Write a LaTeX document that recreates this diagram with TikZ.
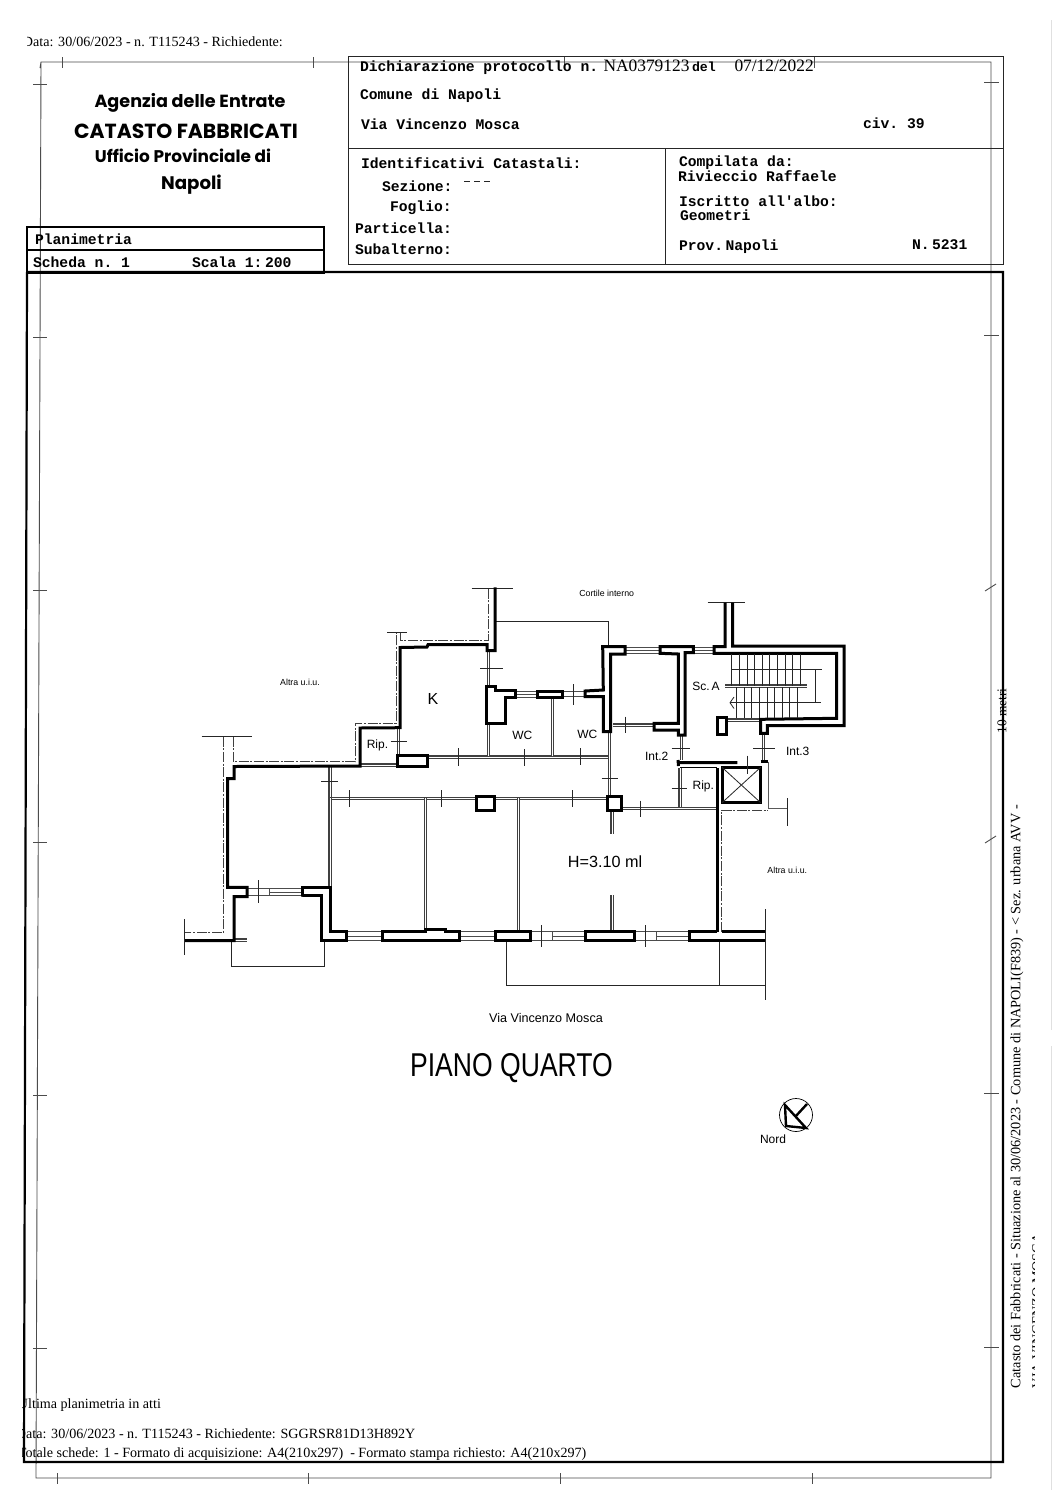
\documentclass[tikz,border=0pt]{standalone}
\usepackage{fontspec}
\setmainfont{Liberation Serif}
\setsansfont{Liberation Sans}
\setmonofont{Liberation Mono}
\newfontfamily\headfont{Poppins}
\usetikzlibrary{positioning}
\tikzset{
  every node/.style={inner sep=0pt,outer sep=0pt},
  frameline/.style={line width=0.45pt,black!70},
  boxline/.style={line width=0.5pt,black!85},
  heavyframe/.style={line width=1.1pt,black},
  wall/.style={line width=1.5pt,black,line join=miter},
  partition/.style={line width=0.55pt,black!75,double=white,double distance=0.5pt},
  windowbox/.style={line width=0.4pt,black!70},
  fine/.style={line width=0.4pt,black!85},
  border/.style={line width=0.5pt,black!75,dash pattern=on 5pt off 0.8pt on 1pt off 0.8pt},
  typed/.style={font=\ttfamily\bfseries\fontsize{7.35}{8}\selectfont,anchor=west,text height=6pt,text depth=0.6pt},
  stamp/.style={font=\rmfamily\fontsize{7.05}{8}\selectfont,anchor=west},
  bigstamp/.style={font=\rmfamily\fontsize{8.7}{10}\selectfont,anchor=west},
  head/.style={font=\headfont\bfseries\fontsize{8.8}{10}\selectfont},
  room/.style={font=\sffamily\fontsize{6}{7}\selectfont},
  tiny label/.style={font=\sffamily\fontsize{4.4}{5}\selectfont},
}
\begin{document}
\begin{tikzpicture}[x=0.5pt,y=-0.5pt]
  \useasboundingbox[fill=white] (0,0) rectangle (1060,1500);

  % thin frame and its ticks
  \draw[frameline] (40,68) -- (41,62) -- (991,62) -- (991,1478) -- (36,1478) -- (41,62);
  \foreach \tx in {62,313,564,814} \draw[frameline] (\tx,57) -- (\tx,68);
  \foreach \ty in {84,337,590,842,1095,1348} \draw[frameline] (33,\ty) -- (47,\ty);
  \foreach \ty in {82,335,1093,1347} \draw[frameline] (984,\ty) -- (999,\ty);
  \foreach \ty in {588,840} \draw[frameline] (985,\ty+3) -- (996,\ty-4);
  \foreach \tx in {57,308,560,812} \draw[frameline] (\tx,1473) -- (\tx,1484);

  % boxes of the heading
  \draw[boxline] (348,56) rectangle (1003,264);
  \draw[boxline] (348,148) -- (1003,148);
  \draw[boxline] (665,148) -- (665,264);
  \draw[heavyframe] (27,227) rectangle (324,273);
  \draw[heavyframe] (27,250) -- (324,250);
  \draw[heavyframe] (27,272) -- (1003,272) -- (1003,1462) -- (24,1462) -- (27,272);

  % heading on the left
  \node[head] (agenzia) at (190,102.5) {Agenzia delle Entrate};
  \node[head,font=\headfont\bfseries\fontsize{10.2}{12}\selectfont] (catasto) at (186,131) {CATASTO FABBRICATI};
  \node[head,font=\headfont\bfseries\fontsize{8.45}{10}\selectfont] (ufficio) at (183,156) {Ufficio Provinciale di};
  \node[head,font=\headfont\bfseries\fontsize{9.1}{10}\selectfont] (napoli) at (191.5,185) {Napoli};

  % typed fields
  \node[typed] (dichiarazione) at (360,66) {Dichiarazione protocollo n.};
  \node[bigstamp] (protocollo) at (603.5,66) {NA0379123};
  \node[typed,font=\ttfamily\bfseries\fontsize{6.6}{7}\selectfont] (del) at (692,66) {del};
  \node[bigstamp] (datadich) at (734.5,66) {07/12/2022};
  \node[typed] (comune) at (360,94) {Comune di Napoli};
  \node[typed] (via) at (361,124) {Via Vincenzo Mosca};
  \node[typed] (civico) at (863,123) {civ. 39};
  \node[typed] (identificativi) at (361,163) {Identificativi Catastali:};
  \node[typed] (sezione) at (382,186) {Sezione:};
  \coordinate (dashstart) at (464,181);
  \coordinate (dashend) at (490,181);
  \draw[fine,densely dashed] (dashstart) -- (dashend);
  \node[typed] (foglio) at (390,206) {Foglio:};
  \node[typed] (particella) at (355,228) {Particella:};
  \node[typed] (subalterno) at (355,249) {Subalterno:};
  \node[typed] (compilata) at (679,161) {Compilata da:};
  \node[typed] (tecnico) at (678,176) {Rivieccio Raffaele};
  \node[typed] (iscritto) at (679,201) {Iscritto all'albo:};
  \node[typed] (albo) at (680,215) {Geometri};
  \node[typed] (provincia) at (679,245) {Prov.\,Napoli};
  \node[typed] (numero) at (912,244) {N.\,5231};
  \node[typed] (planimetria) at (35,239) {Planimetria};
  \node[typed] (scheda) at (33,262) {Scheda n. 1};
  \node[typed] (scalaplan) at (192,262) {Scala 1:\,200};

  % stamped lines, cut off at the edge of the scan
  \begin{scope}
    \clip (27,30) rectangle (400,60);
    \node[stamp] (datatop) at (23,42) {Data: 30/06/2023 - n. T115243 - Richiedente:};
  \end{scope}
  \begin{scope}
    \clip (22,1390) rectangle (700,1470);
    \node[stamp] (ultima) at (18,1405) {Ultima planimetria in atti};
    \node[stamp] (databottom) at (16,1434) {Data: 30/06/2023 - n. T115243 - Richiedente: SGGRSR81D13H892Y};
    \node[stamp] (totale) at (18,1454) {Totale schede: 1 - Formato di acquisizione: A4(210x297)\ \ - Formato stampa richiesto: A4(210x297)};
  \end{scope}
  \begin{scope}
    \clip (1005,1200) rectangle (1034,1400);
    \node[stamp,rotate=90] (viaside) at (1037,1388) {VIA VINCENZO MOSCA};
  \end{scope}
  \node[stamp,font=\rmfamily\fontsize{7.15}{8}\selectfont,rotate=90] (catastoside) at (1017,1388) {Catasto dei Fabbricati - Situazione al 30/06/2023 - Comune di NAPOLI(F839) - < Sez. urbana AVV -};
  \node[font=\rmfamily\fontsize{6.7}{7}\selectfont,rotate=90] (scalebar) at (1002,711) {10 metri};

  % scan edge
  \draw[black!12,line width=0.4pt] (1051,20) -- (1051,1030);
  \draw[black!12,line width=0.4pt] (1051,1046) -- (1051,1490);

  % property lines
  \draw[border] (223.3,736.7) -- (223.3,932.7) -- (185,932.7);
  \draw[border] (233.3,736.7) -- (233.3,761.7) -- (355,761.7) -- (355,723.3) -- (396,723.3) -- (396,632.7);
  \draw[border] (400,632.7) -- (400,640) -- (488.3,640) -- (488.3,588.3);
  \draw[border] (721.7,931.7) -- (721.7,810) -- (768.3,810);
  \draw[fine] (201.7,736.7) -- (251.7,736.7);
  \draw[fine] (387.3,632.7) -- (407.3,632.7);
  \draw[fine] (471.7,588.3) -- (512.7,588.3);
  \draw[fine] (707.7,602.7) -- (745,602.7);
  \draw[fine,black!65,line width=0.6pt] (768.3,762) -- (768.3,808.3) -- (787.3,808.3);
  \draw[fine] (787.3,798.3) -- (787.3,826);

  % balconies and courtyard
  \draw[fine] (496,621.7) -- (608.3,621.7) -- (608.3,646.7);
  \draw[fine] (231.7,940.7) -- (231.7,966) -- (324,966) -- (324,940.7);
  \draw[fine] (506.7,940.7) -- (506.7,985) -- (765,985);
  \draw[fine] (719.3,940.7) -- (719.3,985);
  \draw[fine] (765,909.3) -- (765,1000);

  % partitions
  \foreach \xa/\ya/\xb/\yb in {
    427/757/608/757, 488.3/723.3/488.3/756, 552.7/697.3/552.7/756,
    609.3/731.7/609.3/796, 330/766.7/330/798.3, 330/798.3/476.7/798.3,
    494.3/798.3/607.3/798.3, 330/798.3/330/887, 425.7/798.3/425.7/929,
    518.3/798.3/518.3/931.7, 621.7/808.3/717.3/808.3, 612/810/612/834.3,
    612/895/612/931.7, 680/768/680/806.7, 763.5/733/763.5/761,
    681.7/735/681.7/760, 613/725/653/725, 398.3/728/398.3/755,
    488.3/652/488.3/686, 360/765/397/765, 234/940/247.3/940,
    725/686/806.7/686, 726.7/720/760/720}
    \draw[partition] (\xa,\ya) -- (\xb,\yb);

  % windows
  \foreach \xa/\ya/\xb/\yb in {
    625/647.7/660/653.7, 693.3/647.7/714/653.3, 515/691.7/537.3/697,
    562.7/691.7/585/696.7, 247.3/888.3/302.7/895.7,
    347.3/931.7/382.7/940.7, 459.3/931.7/495/940.7,
    530/931.7/585/940.7, 634/931.7/689.3/940.7} {
    \draw[windowbox] (\xa,\ya) rectangle (\xb,\yb);
  }
  \foreach \xa/\ya/\xb/\yb in {
    625/650.7/660/650.7, 693.3/650.7/714/650.7, 515/694.3/537.3/694.3,
    269.5/892/302.7/892, 347.3/936.2/382.7/936.2, 459.3/936.2/495/936.2,
    552.7/936.2/585/936.2, 656.7/936.2/689.3/936.2}
    \draw[windowbox] (\xa,\yb) -- (\xb,\yb);
  \foreach \xa/\ya/\xb/\yb in {
    269.5/888.3/269.5/895.7, 552.7/931.7/552.7/940.7, 656.7/931.7/656.7/940.7}
    \draw[windowbox] (\xa,\ya) -- (\xb,\yb);

  % bearing walls
  \draw[wall] (184,940.7) -- (234,940.7) -- (234,896.7) -- (247,896.7) -- (247,887.3) -- (227.5,887.3) -- (227.5,778.5) -- (234,778.5) -- (234,766.5) -- (360,766) -- (360,728) -- (400,727.7) -- (400,647.5) -- (427,647) -- (428,644.7) -- (487,644.7) -- (487,650.7) -- (495,650.7) -- (495,587.3);
  \draw[wall] (302.7,896.7) -- (302.7,887.3) -- (330,887.3) -- (330,931.7) -- (346.7,931.7) -- (346.7,940.7) -- (321.7,940.7) -- (321.7,895.7) -- (302.7,895.7) -- cycle;
  \draw[wall] (382.7,931.7) -- (425,931.7) -- (425,929) -- (445,929) -- (445,931.7) -- (459.3,931.7) -- (459.3,940.7) -- (382.7,940.7) -- cycle;
  \draw[wall] (495,931.7) rectangle (530,940.7);
  \draw[wall] (585,931.7) rectangle (634,940.7);
  \draw[wall] (765.3,931.7) -- (722,931.7) (717.3,931.7) -- (689.3,931.7) -- (689.3,940.7) -- (765.3,940.7);
  \draw[wall] (717.3,931.7) -- (717.3,768.3);
  \draw[wall] (678,760) -- (678.5,766) (678,762.7) -- (737.3,762.7);
  \draw[wall,line width=0.8pt] (680,767.5) -- (717.3,767.5);
  \draw[wall] (602.7,646.7) -- (625,646.7) -- (625,654) -- (610.7,654) -- (610.7,731.7) -- (603.3,731.7) -- (603.3,696.7) -- (585,696.7) -- (585,691) -- (603.3,690) -- cycle;
  \draw[wall] (660,646.7) -- (693.3,646.7) -- (693.3,652.7) -- (685,652.7) -- (685,735) -- (678.3,735) -- (678.3,730) -- (654,730) -- (654,723.3) -- (678.3,723.3) -- (678.3,654) -- (660,653.3) -- cycle;
  \draw[wall] (725,602.7) -- (725,646.7) -- (714,646.7) -- (714,653.3) -- (836.7,653.3) -- (836.7,718.3) -- (760.7,719.3) -- (760.7,733.3) -- (767.3,733.3) -- (767.3,725.7) -- (844,725.7) -- (844,646) -- (732.7,646) -- (732.7,602.7);
  \draw[wall] (486.7,686) -- (495,686) -- (495,690.7) -- (515,690.7) -- (515,697.3) -- (505,697.3) -- (505,723.3) -- (486.7,723.3) -- cycle;
  \draw[wall] (537.3,691) rectangle (562.7,697.3);
  \draw[wall] (607.3,796) rectangle (621.7,810);
  \draw[wall] (476.7,796.7) rectangle (494.3,810);
  \draw[wall] (397.3,755.7) rectangle (427.3,766);
  \draw[wall] (717.3,717.3) rectangle (726,734);
  \draw[wall] (760.7,761.7) -- (768.3,761.7);

  % lift
  \draw[wall] (722,767.3) rectangle (760.7,802.7);
  \draw[fine] (722,767.3) -- (760.7,802.7);
  \draw[fine] (760.7,767.3) -- (722,802.7);

  % stairs
  \foreach \sx in {0,...,9} \draw[fine] (731.7+7.6*\sx,654) -- (731.7+7.6*\sx,686);
  \foreach \sx in {0,...,8} \draw[fine] (736.5+7.6*\sx,687) -- (736.5+7.6*\sx,718);
  \draw[fine] (731.7,669) -- (822.3,669);
  \draw[fine] (815.7,669) -- (815.7,702.7);
  \draw[fine] (820.7,702.7) -- (730,702.7);
  \draw[fine] (734,697) -- (730,702.7) -- (734,708.5);

  % door marks
  \foreach \xa/\ya/\xb/\yb in {
    480/668.7/502.7/668.7, 390.7/741.7/407.3/741.7, 458.3/748.3/458.3/766,
    321.3/781.7/338/781.7, 349.3/790/349.3/806.7, 441.3/790/441.3/806.7,
    573.3/684/573.3/705, 524/749/524/765.7, 580.7/748.3/580.7/765,
    601.7/778.3/617.7/778.3, 572/790/572/806.7, 640/800.7/640/817.3,
    625.3/716.7/625.3/732.7, 671.7/748.3/690/748.3, 753.3/748.3/775/748.3,
    671.7/788.3/687.3/788.3, 747.7/755.7/747.7/774, 258.3/880/258.3/902.7,
    541.7/925/541.7/946.7, 645.3/925/645.3/946.7, 184.7/919.3/184.7/955}
    \draw[fine] (\xa,\ya) -- (\xb,\yb);

  % rooms
  \node[room,font=\sffamily\fontsize{8}{9}\selectfont] (kitchen) at (433,699) {K};
  \node[room] (ripk) at (377.5,745) {Rip.};
  \node[room] (wcone) at (522.3,735) {WC};
  \node[room] (wctwo) at (587.3,734.3) {WC};
  \node[room] (scala) at (706,686.7) {Sc.\,A};
  \node[room] (intdue) at (656.7,756) {Int.2};
  \node[room] (inttre) at (797.7,751.3) {Int.3};
  \node[room] (riplift) at (703.3,786) {Rip.};
  \node[tiny label] (cortile) at (606.7,593.3) {Cortile interno};
  \node[tiny label] (altrasx) at (300,682) {Altra u.i.u.};
  \node[tiny label] (altradx) at (787.3,870) {Altra u.i.u.};
  \node[room,font=\sffamily\fontsize{8.1}{10}\selectfont] (altezza) at (605,861.7) {H=3.10 ml};
  \node[room,font=\sffamily\fontsize{6.3}{7}\selectfont] (strada) at (546,1018) {Via Vincenzo Mosca};
  \node[font=\sffamily\fontsize{16.5}{18}\selectfont,xscale=0.805] (piano) at (511.5,1068) {PIANO QUARTO};

  % north mark
  \node[draw,circle,line width=0.35pt,minimum size=16.5pt] (nordmark) at (796,1115) {};
  \draw[wall,line width=1.2pt] (785,1105) -- (786,1126) -- (806,1128) -- cycle;
  \draw[wall,line width=1.2pt] (795,1117) -- (807,1104);
  \node[room] (nord) at (773,1139) {Nord};
\end{tikzpicture}
\end{document}
